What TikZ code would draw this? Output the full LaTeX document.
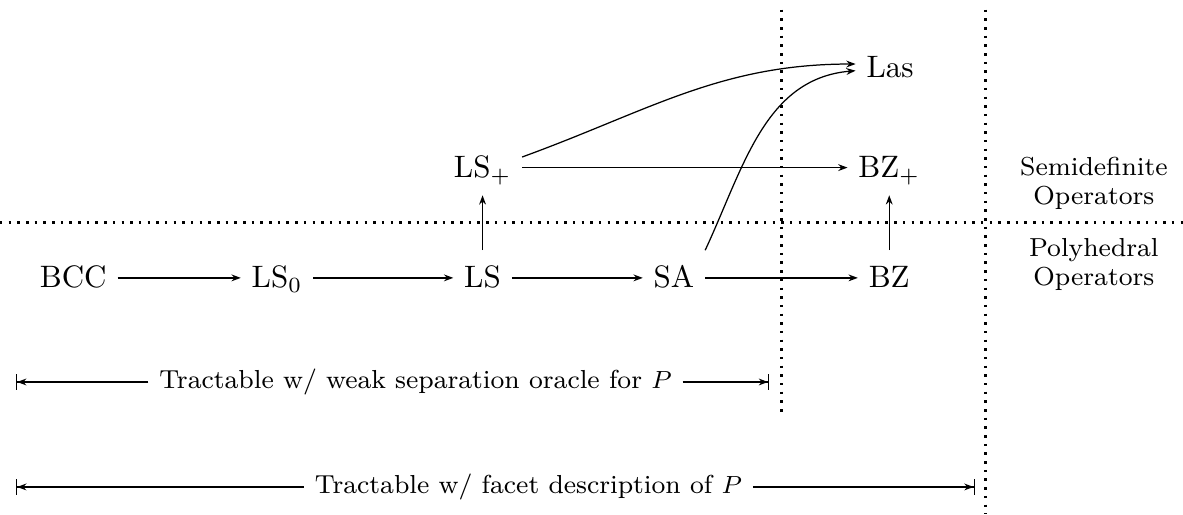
\documentclass[tikz,border=0pt]{standalone}
\usetikzlibrary{arrows.meta}
\newcommand{\notesize}{\fontsize{8.4}{9.4}\selectfont}
\begin{document}
\begin{tikzpicture}[
        >={Stealth[length=3pt,width=2.2pt]},
        op/.style={text height=2ex, text depth=.5ex},
        region/.style={align=center, font=\notesize},
        scope/.style={font=\notesize},
        divider/.style={thick, dotted},
        bound/.style={-{Stealth[length=3pt,width=2.2pt] Bar[width=5pt]}}
    ]
        \useasboundingbox (0,0) rectangle (13.41,-5.83);
        \node[op] (bcc) at (0.83,-3.15) {BCC};
        \node[op] (lszero) at (3.14,-3.15) {LS$_0$};
        \node[op] (ls) at (5.47,-3.15) {LS};
        \node[op] (sa) at (7.64,-3.15) {SA};
        \node[op] (bz) at (10.08,-3.15) {BZ};
        \node[op] (lsplus) at (5.47,-1.9) {LS$_+$};
        \node[op] (bzplus) at (10.08,-1.9) {BZ$_+$};
        \node[op] (las) at (10.09,-0.76) {Las};
        \node[region] (sdp) at (12.4,-2.08) {Semidefinite\\Operators};
        \node[region] (poly) at (12.4,-3.0) {Polyhedral\\Operators};
        \draw[->] (bcc) -- (lszero);
        \draw[->] (lszero) -- (ls);
        \draw[->] (ls) -- (sa);
        \draw[->] (sa) -- (bz);
        \draw[->] (ls) -- (lsplus);
        \draw[->] (bz) -- (bzplus);
        \draw[->] (lsplus) -- (bzplus);
        \draw[->] (lsplus.15) to[out=20, in=180] (las.175);
        \draw[->] (sa.north east) to[out=65, in=185] (las.186);
        \draw[divider] (0,-2.52) -- (13.41,-2.52);
        \draw[divider] (8.86,-0.11) -- (8.86,-4.67);
        \draw[divider] (11.17,-0.11) -- (11.17,-5.83);
        \coordinate (weakl) at (0.18,-4.33);
        \coordinate (weakr) at (8.72,-4.33);
        \coordinate (facetl) at (0.18,-5.52);
        \coordinate (facetr) at (11.05,-5.52);
        \node[scope] (weak) at (4.71,-4.33) {Tractable w/ weak separation oracle for $P$};
        \node[scope] (facet) at (5.99,-5.52) {Tractable w/ facet description of $P$};
        \draw[bound] (weak.west) -- (weakl);
        \draw[bound] (weak.east) -- (weakr);
        \draw[bound] (facet.west) -- (facetl);
        \draw[bound] (facet.east) -- (facetr);
\end{tikzpicture}
\end{document}
